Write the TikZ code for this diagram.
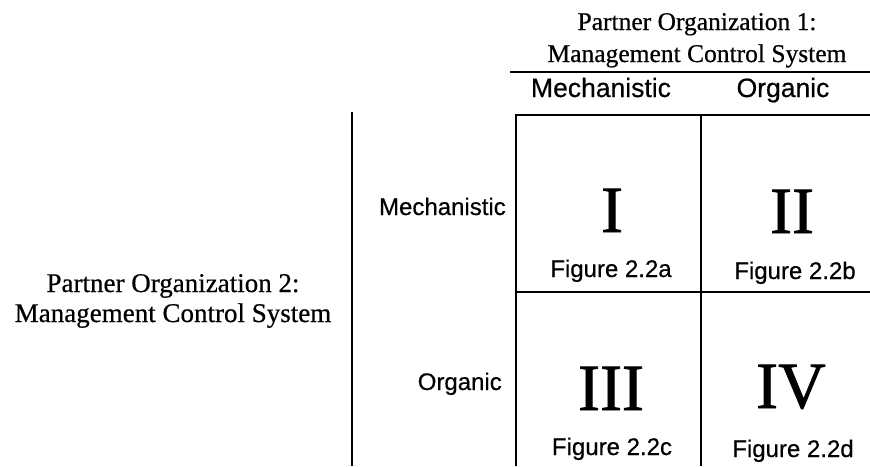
\documentclass[tikz,border=0pt]{standalone}
\usepackage{fontspec}
\setmainfont[FakeBold=0.6,AutoFakeBold=0.6]{Liberation Serif}
\newfontfamily\serifheavy[FakeBold=0.6]{Liberation Serif}
\newfontfamily\numeralfont[FakeBold=1.2]{Liberation Serif}
\newfontfamily\labelfont[FakeBold=0.5]{Liberation Sans}
\newcommand{\fsz}[1]{\fontsize{#1}{#1}\selectfont}
\begin{document}
\begin{tikzpicture}[x=1pt,y=-1pt,
  txt/.style={inner sep=0pt,anchor=base},
  title/.style={txt,font=\serifheavy\fsz{25.5}},
  sidetitle/.style={txt,font=\serifheavy\fsz{27}},
  colhead/.style={txt,font=\labelfont\fsz{26.5}},
  rowhead/.style={txt,anchor=base east,font=\labelfont\fsz{24}},
  numeral/.style={txt,font=\numeralfont\fsz{66}},
  figref/.style={txt,font=\labelfont\fsz{24}},
  rule/.style={line width=2.4pt},
  gridline/.style={line width=2.2pt}]
\useasboundingbox (0,0) rectangle (870,466);

% column titles
\node[title] (t1) at (697,30) {Partner Organization 1:};
\node[title] (t2) at (697,62) {Management Control System};
\draw[rule] (510,72) -- (870,72);
\node[colhead] (cm) at (601,97) {Mechanistic};
\node[colhead] (co) at (783,97) {Organic};

% row titles
\node[sidetitle] (s1) at (173,292) {Partner Organization 2:};
\node[sidetitle] (s2) at (173,322) {Management Control System};
\draw[rule] (352,112) -- (352,466);
\node[rowhead] (rm) at (506,215) {Mechanistic};
\node[rowhead] (ro) at (502,390) {Organic};

% the 2x2 grid
\draw[gridline] (870,115) -- (516,115) -- (516,466);
\draw[gridline] (701,115) -- (701,466);
\draw[gridline] (516,292) -- (870,292);

% cell contents
\node[numeral] (c1) at (612,232) {I};
\node[figref]  (f1) at (611,277) {Figure 2.2a};
\node[numeral] (c2) at (792,233) {II};
\node[figref]  (f2) at (795,279) {Figure 2.2b};
\node[numeral] (c3) at (611,410) {III};
\node[figref]  (f3) at (612,455) {Figure 2.2c};
\node[numeral] (c4) at (791,408) {IV};
\node[figref]  (f4) at (793,457) {Figure 2.2d};
\end{tikzpicture}
\end{document}
